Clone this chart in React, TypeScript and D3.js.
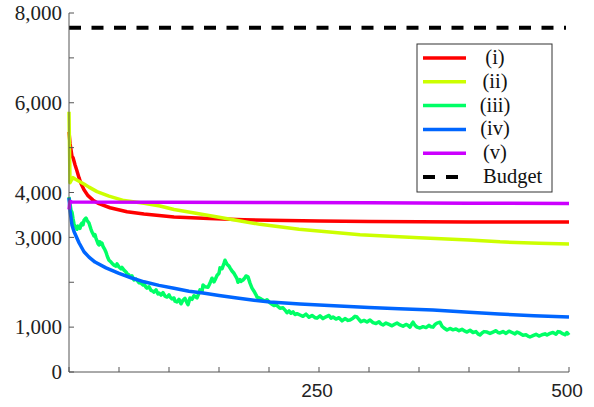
import React from "react";
import * as d3 from "d3";

const seriesNames = ["(i)", "(ii)", "(iii)", "(iv)", "(v)"];
const seriesColors = ["#ff0000", "#ccff00", "#00ff66", "#0066ff", "#cc00ff"];

// [iteration, value]
const seriesI: [number, number][] = [
  [0, 5350], [1, 5100], [2, 4950], [3, 4800], [4, 4780], [6, 4620], [8, 4480], [10, 4330],
  [12, 4200], [15, 4060], [19, 3930], [24, 3830], [30, 3750], [41, 3660], [58, 3570],
  [75, 3520], [105, 3455], [140, 3420], [175, 3395], [200, 3380], [250, 3365], [300, 3355],
  [350, 3350], [400, 3345], [450, 3342], [500, 3340],
];

const seriesII: [number, number][] = [
  [0, 5800], [1, 4220], [2, 4260], [4, 4330], [6, 4300], [10, 4250], [15, 4190], [20, 4120],
  [28, 4020], [40, 3920], [55, 3820], [75, 3760], [91, 3700], [105, 3620], [124, 3550],
  [150, 3450], [191, 3290], [230, 3180], [291, 3060], [350, 2990], [400, 2940], [431, 2900],
  [470, 2870], [500, 2850],
];

const seriesIII: [number, number][] = [
  [0, 3900], [1, 3750], [2, 3600], [3, 3560], [4, 3420], [5, 3300], [6, 3250], [7, 3230],
  [8, 3180], [9, 3250], [10, 3230], [11, 3200], [12, 3290], [13, 3320], [14, 3280], [15, 3380],
  [16, 3410], [17, 3430], [18, 3380], [19, 3350], [20, 3320], [21, 3250], [22, 3180], [23, 3120],
  [24, 3080], [25, 3030], [26, 3060], [27, 2980], [28, 2920], [29, 2860], [30, 2830], [31, 2900],
  [32, 2850], [33, 2870], [34, 2800], [35, 2760], [36, 2720], [37, 2670], [38, 2600], [39, 2540],
  [40, 2490], [42, 2450], [44, 2400], [45, 2380], [47, 2360], [48, 2410], [50, 2340], [52, 2300],
  [53, 2330], [55, 2270], [57, 2230], [58, 2190], [60, 2160], [62, 2110], [63, 2140], [65, 2050],
  [67, 2070], [69, 2020], [70, 1990], [72, 1980], [74, 1940], [75, 1960], [77, 1890], [78, 1870],
  [80, 1900], [82, 1820], [84, 1800], [85, 1780], [87, 1830], [89, 1740], [90, 1760], [92, 1715],
  [94, 1770], [96, 1690], [98, 1670], [100, 1720], [101, 1670], [103, 1630], [105, 1650],
  [106, 1580], [108, 1560], [110, 1620], [112, 1520], [114, 1600], [116, 1640], [118, 1540],
  [119, 1500], [121, 1650], [123, 1620], [125, 1700], [128, 1650], [130, 1760], [131, 1830],
  [133, 1790], [134, 1940], [136, 1900], [139, 1890], [141, 1980], [143, 2090], [145, 2010],
  [146, 2050], [148, 2150], [150, 2200], [151, 2320], [153, 2300], [155, 2420], [156, 2490],
  [158, 2400], [160, 2360], [161, 2320], [163, 2250], [165, 2200], [166, 2160], [168, 2080],
  [169, 2000], [171, 2060], [172, 2020], [174, 2050], [176, 2100], [177, 2140], [179, 2120],
  [181, 1980], [183, 1870], [185, 1800], [187, 1720], [188, 1670], [190, 1650], [192, 1630],
  [194, 1600], [196, 1580], [198, 1610], [201, 1540], [203, 1510], [205, 1480], [207, 1500],
  [209, 1460], [211, 1420], [214, 1430], [216, 1380], [218, 1320], [220, 1360], [222, 1310],
  [224, 1340], [226, 1280], [228, 1300], [231, 1270], [234, 1240], [237, 1290], [240, 1220],
  [243, 1260], [246, 1210], [248, 1200], [251, 1250], [254, 1190], [257, 1230], [260, 1260],
  [262, 1200], [264, 1225], [267, 1180], [270, 1210], [273, 1140], [276, 1190], [279, 1150],
  [281, 1160], [284, 1200], [286, 1240], [288, 1225], [290, 1170], [292, 1120], [295, 1150],
  [298, 1115], [301, 1160], [304, 1100], [307, 1080], [310, 1120], [312, 1070], [314, 1050],
  [317, 1090], [320, 1060], [323, 1030], [326, 1070], [328, 1090], [331, 1050], [334, 1020],
  [337, 1060], [339, 1040], [341, 1000], [343, 1080], [344, 1110], [346, 1040], [348, 1000],
  [351, 980], [354, 1010], [357, 990], [360, 1040], [362, 1010], [364, 1000], [366, 1060],
  [368, 1090], [371, 1110], [373, 1020], [375, 980], [378, 935], [381, 970], [384, 940],
  [387, 960], [390, 920], [393, 950], [396, 910], [398, 890], [401, 930], [404, 880], [407, 900],
  [409, 850], [411, 825], [413, 870], [415, 900], [418, 890], [421, 860], [424, 890], [427, 920],
  [429, 880], [431, 870], [434, 900], [437, 860], [440, 910], [443, 880], [446, 850], [448, 890],
  [451, 860], [454, 820], [457, 830], [459, 800], [461, 780], [464, 810], [467, 840], [470, 800],
  [473, 830], [476, 850], [478, 825], [481, 860], [484, 880], [487, 840], [489, 900], [491, 890],
  [493, 860], [496, 830], [498, 880], [500, 825],
];

const seriesIV: [number, number][] = [
  [0, 3880], [1, 3600], [3, 3270], [5, 3130], [7, 3030], [10, 2880], [15, 2680], [20, 2560],
  [26, 2450], [37, 2320], [50, 2200], [62, 2100], [75, 2010], [90, 1930], [105, 1865],
  [120, 1800], [134, 1760], [150, 1705], [168, 1650], [185, 1600], [201, 1560], [231, 1515],
  [260, 1480], [300, 1440], [330, 1410], [364, 1380], [400, 1330], [430, 1290], [465, 1255],
  [500, 1225],
];

const seriesV: [number, number][] = [
  [0, 3620], [1, 3800], [3, 3790], [100, 3785], [200, 3775], [300, 3770], [400, 3762],
  [500, 3755],
];

const allSeries = [seriesI, seriesII, seriesIII, seriesIV, seriesV];

const budgetValue = 7670;
const yTickValues = [0, 1000, 2000, 3000, 4000, 5000, 6000, 7000, 8000];
const yTickLabels = ["0", "1,000", "", "3,000", "4,000", "", "6,000", "", "8,000"];
const xTickValues = [0, 50, 100, 150, 200, 250, 300, 350, 400, 450, 500];
const xTickLabels: Record<number, string> = { 250: "250", 500: "500" };

export default function App() {
  const x = d3.scaleLinear().domain([0, 500]).range([69, 569]);
  const y = d3.scaleLinear().domain([0, 8000]).range([372, 13]);
  const line = d3
    .line<[number, number]>()
    .x((d) => x(d[0]))
    .y((d) => y(d[1]));

  const legendX = 417;
  const legendY = 44;
  const rowY = (i: number) => 58 + i * 23.8;

  return (
    <svg
      width={594}
      height={407}
      style={{ position: "absolute", left: 0, top: 0, background: "#fff" }}
    >
      {/* budget */}
      <line
        x1={x(0)}
        x2={x(497)}
        y1={y(budgetValue)}
        y2={y(budgetValue)}
        stroke="#000"
        strokeWidth={4}
        strokeDasharray="12,10.5"
      />
      {allSeries.map((s, i) => (
        <path
          key={i}
          d={line(s) || ""}
          fill="none"
          stroke={seriesColors[i]}
          strokeWidth={3.5}
          strokeLinejoin="round"
        />
      ))}
      {/* axes */}
      <g stroke="#555" strokeWidth={1}>
        <line x1={69} x2={69} y1={y(8000)} y2={y(0)} />
        <line x1={69} x2={x(500)} y1={y(0)} y2={y(0)} />
        {yTickValues.map((v) => (
          <line key={"yt" + v} x1={69} x2={74} y1={y(v)} y2={y(v)} />
        ))}
        {xTickValues.map((v) => (
          <line key={"xt" + v} x1={x(v)} x2={x(v)} y1={y(0)} y2={y(0) - 5} />
        ))}
      </g>
      <g fontFamily="'Liberation Serif', 'Times New Roman', serif" fontSize={21} fill="#222">
        {yTickValues.map((v, i) =>
          yTickLabels[i] ? (
            <text key={"yl" + v} x={62} y={y(v)} dy="0.35em" textAnchor="end">
              {yTickLabels[i]}
            </text>
          ) : null
        )}
      </g>
      <g fontFamily="'Liberation Sans', Arial, sans-serif" fontSize={19} fill="#222">
        {xTickValues
          .filter((v) => xTickLabels[v])
          .map((v) => (
            <text key={"xl" + v} x={x(v) - 2} y={397} textAnchor="middle">
              {xTickLabels[v]}
            </text>
          ))}
      </g>
      {/* legend */}
      <rect
        x={legendX}
        y={legendY}
        width={135}
        height={148}
        fill="#fff"
        stroke="#333"
        strokeWidth={1}
      />
      <g fontFamily="'Liberation Serif', 'Times New Roman', serif" fontSize={20.5} fill="#111">
        {seriesNames.map((n, i) => (
          <g key={n}>
            <line
              x1={423}
              x2={466}
              y1={rowY(i)}
              y2={rowY(i)}
              stroke={seriesColors[i]}
              strokeWidth={3.5}
            />
            <text x={495} y={rowY(i) + 6} textAnchor="middle">
              {n}
            </text>
          </g>
        ))}
        <line
          x1={423}
          x2={459}
          y1={rowY(5)}
          y2={rowY(5)}
          stroke="#000"
          strokeWidth={4}
          strokeDasharray="12,11"
        />
        <text x={483} y={rowY(5) + 6}>
          Budget
        </text>
      </g>
    </svg>
  );
}
